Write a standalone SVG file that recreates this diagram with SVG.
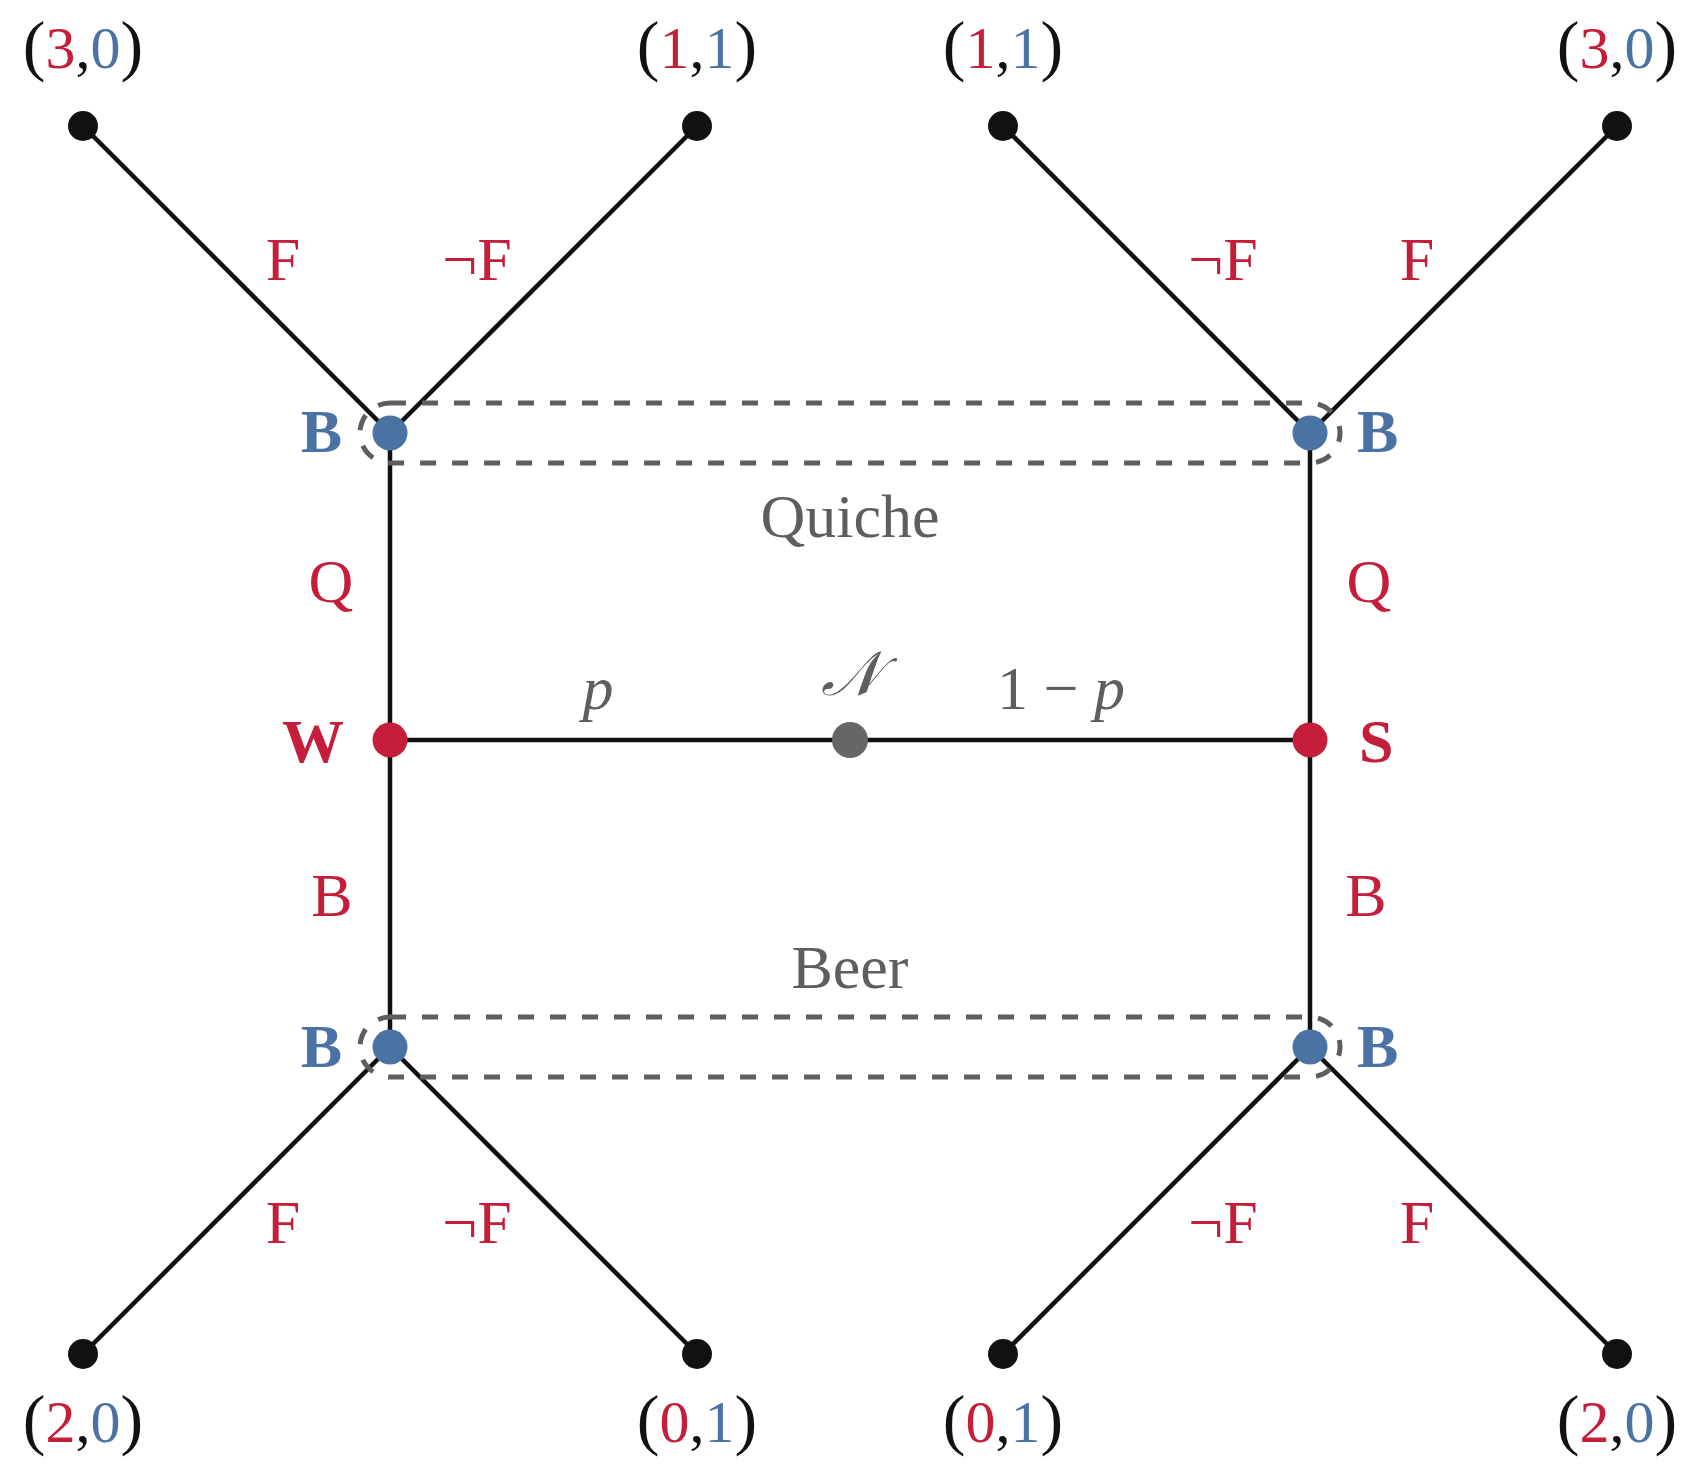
<svg xmlns="http://www.w3.org/2000/svg" width="1698" height="1478" viewBox="0 0 1698 1478">
<style>
text{font-family:"Liberation Serif","DejaVu Serif",serif;font-size:62px;text-anchor:middle}
.r{fill:#C41E3A}
.b{fill:#4A73A3}
.k{fill:#111}
.g{fill:#5E5E5E}
.bold{font-weight:bold}
.pay{font-size:60px}
.par{font-size:68px}
.edge{stroke:#111;stroke-width:4.5;fill:none}
.info{stroke:#5E5E5E;stroke-width:5;fill:none;stroke-dasharray:16 16}
</style>
<rect width="1698" height="1478" fill="#fff"/>
<g id="connectors">
<line class="edge" x1="390" y1="433" x2="83" y2="126"/>
<line class="edge" x1="390" y1="433" x2="697" y2="126"/>
<line class="edge" x1="1310" y1="433" x2="1003" y2="126"/>
<line class="edge" x1="1310" y1="433" x2="1617" y2="126"/>
<line class="edge" x1="390" y1="1047" x2="83" y2="1354"/>
<line class="edge" x1="390" y1="1047" x2="697" y2="1354"/>
<line class="edge" x1="1310" y1="1047" x2="1003" y2="1354"/>
<line class="edge" x1="1310" y1="1047" x2="1617" y2="1354"/>
<line class="edge" x1="390" y1="433" x2="390" y2="1047"/>
<line class="edge" x1="1310" y1="433" x2="1310" y2="1047"/>
<line class="edge" x1="390" y1="740" x2="1310" y2="740"/>
<text class="r" x="283" y="280">F</text>
<text class="r" x="477" y="280">¬F</text>
<text class="r" x="1223" y="280">¬F</text>
<text class="r" x="1417" y="280">F</text>
<text class="r" x="283" y="1243">F</text>
<text class="r" x="477" y="1243">¬F</text>
<text class="r" x="1223" y="1243">¬F</text>
<text class="r" x="1417" y="1243">F</text>
<text class="r" x="331" y="602">Q</text>
<text class="r" x="1369" y="602">Q</text>
<text class="r" x="332" y="916">B</text>
<text class="r" x="1366" y="916">B</text>
<text class="g" x="598" y="709" font-style="italic">p</text>
<text class="g" x="1061" y="709">1 − <tspan font-style="italic">p</tspan></text>
</g>
<g id="info-quiche">
<rect class="info" x="360" y="403" width="980" height="60" rx="30" ry="30"/>
<text class="g" x="850" y="537">Quiche</text>
</g>
<g id="info-beer">
<rect class="info" x="360" y="1017" width="980" height="60" rx="30" ry="30"/>
<text class="g" x="850" y="988">Beer</text>
</g>
<g id="node-nature">
<circle cx="850" cy="740" r="18" fill="#666"/>
<text class="g" x="850" y="695" font-style="italic">𝒩</text>
</g>
<g id="node-W">
<circle cx="390" cy="740" r="17.5" fill="#C41E3A"/>
<text class="r bold" x="344" y="762" style="text-anchor:end">W</text>
</g>
<g id="node-S">
<circle cx="1310" cy="740" r="17.5" fill="#C41E3A"/>
<text class="r bold" x="1359" y="762" style="text-anchor:start">S</text>
</g>
<g id="node-BQW">
<circle cx="390" cy="433" r="17.5" fill="#4A73A3"/>
<text class="b bold" x="342" y="452" style="text-anchor:end">B</text>
</g>
<g id="node-BQS">
<circle cx="1310" cy="433" r="17.5" fill="#4A73A3"/>
<text class="b bold" x="1357" y="452" style="text-anchor:start">B</text>
</g>
<g id="node-BBW">
<circle cx="390" cy="1047" r="17.5" fill="#4A73A3"/>
<text class="b bold" x="342" y="1067" style="text-anchor:end">B</text>
</g>
<g id="node-BBS">
<circle cx="1310" cy="1047" r="17.5" fill="#4A73A3"/>
<text class="b bold" x="1357" y="1067" style="text-anchor:start">B</text>
</g>
<g id="leaf1">
<circle cx="83" cy="126" r="15" fill="#111"/>
<text class="pay k" x="83" y="68"><tspan class="par">(</tspan><tspan class="r">3</tspan>,<tspan class="b">0</tspan><tspan class="par">)</tspan></text>
</g>
<g id="leaf2">
<circle cx="697" cy="126" r="15" fill="#111"/>
<text class="pay k" x="697" y="68"><tspan class="par">(</tspan><tspan class="r">1</tspan>,<tspan class="b">1</tspan><tspan class="par">)</tspan></text>
</g>
<g id="leaf3">
<circle cx="1003" cy="126" r="15" fill="#111"/>
<text class="pay k" x="1003" y="68"><tspan class="par">(</tspan><tspan class="r">1</tspan>,<tspan class="b">1</tspan><tspan class="par">)</tspan></text>
</g>
<g id="leaf4">
<circle cx="1617" cy="126" r="15" fill="#111"/>
<text class="pay k" x="1617" y="68"><tspan class="par">(</tspan><tspan class="r">3</tspan>,<tspan class="b">0</tspan><tspan class="par">)</tspan></text>
</g>
<g id="leaf5">
<circle cx="83" cy="1354" r="15" fill="#111"/>
<text class="pay k" x="83" y="1442"><tspan class="par">(</tspan><tspan class="r">2</tspan>,<tspan class="b">0</tspan><tspan class="par">)</tspan></text>
</g>
<g id="leaf6">
<circle cx="697" cy="1354" r="15" fill="#111"/>
<text class="pay k" x="697" y="1442"><tspan class="par">(</tspan><tspan class="r">0</tspan>,<tspan class="b">1</tspan><tspan class="par">)</tspan></text>
</g>
<g id="leaf7">
<circle cx="1003" cy="1354" r="15" fill="#111"/>
<text class="pay k" x="1003" y="1442"><tspan class="par">(</tspan><tspan class="r">0</tspan>,<tspan class="b">1</tspan><tspan class="par">)</tspan></text>
</g>
<g id="leaf8">
<circle cx="1617" cy="1354" r="15" fill="#111"/>
<text class="pay k" x="1617" y="1442"><tspan class="par">(</tspan><tspan class="r">2</tspan>,<tspan class="b">0</tspan><tspan class="par">)</tspan></text>
</g>
</svg>
